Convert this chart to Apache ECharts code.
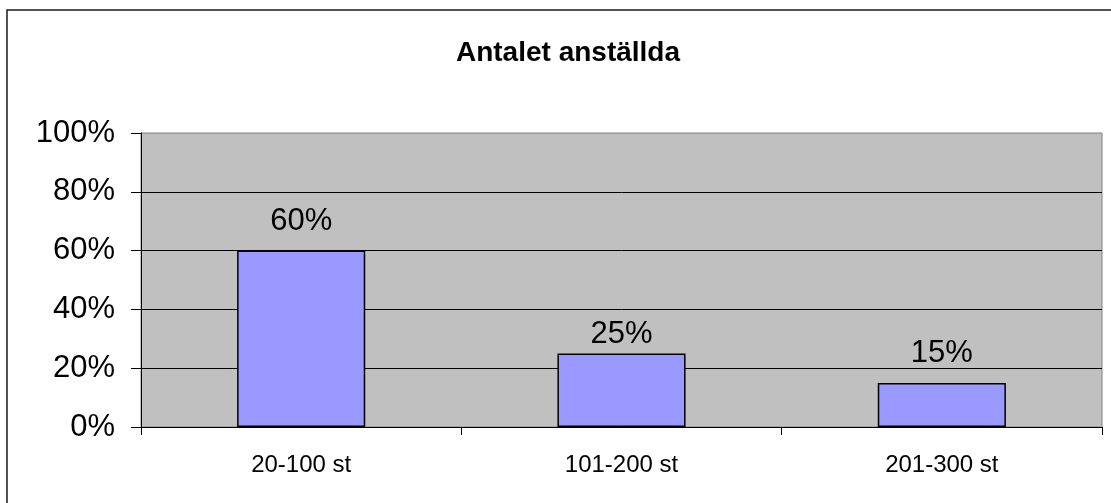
<!DOCTYPE html>
<html>
<head>
<meta charset="utf-8">
<script src="https://cdn.jsdelivr.net/npm/echarts@6/dist/echarts.min.js"></script>
<style>
  html, body { margin: 0; padding: 0; background: #fff; }
  #chart { width: 1111px; height: 503px; }
</style>
</head>
<body>
<div id="chart"></div>
<script>
// Antalet anställda per företag, andel i procent
const categories = ['20-100 st', '101-200 st', '201-300 st'];
const shares = [60, 25, 15];
const yTicks = [0, 20, 40, 60, 80, 100];

const FONT = '"Liberation Sans", Arial, sans-serif';
// gap between each value label and the top of its bar
const labelGaps = [14, 4, 14];

const chart = echarts.init(document.getElementById('chart'), null, { renderer: 'canvas' });

chart.setOption({
  backgroundColor: '#ffffff',
  animation: false,
  title: {
    text: 'Antalet anställda',
    left: 563,
    textAlign: 'center',
    top: 34,
    textStyle: { fontFamily: FONT, fontSize: 28, fontWeight: 'bold', color: '#000' }
  },
  graphic: [
    {
      type: 'rect',
      shape: { x: 7, y: 10, width: 1200, height: 600 },
      style: { fill: 'none', stroke: '#1a1a1a', lineWidth: 1.5 },
      silent: true,
      z: 100
    }
  ],
  grid: {
    left: 141,
    right: 9,
    top: 133,
    bottom: 76,
    show: true,
    backgroundColor: '#C0C0C0',
    borderColor: '#808080',
    borderWidth: 1
  },
  xAxis: {
    type: 'category',
    data: categories,
    boundaryGap: true,
    axisLine: { lineStyle: { color: '#000', width: 1 } },
    axisTick: { show: true, alignWithLabel: false, length: 8, lineStyle: { color: '#000' } },
    axisLabel: { fontFamily: FONT, fontSize: 24, color: '#000', margin: 26 }
  },
  yAxis: {
    type: 'value',
    min: yTicks[0],
    max: yTicks[yTicks.length - 1],
    interval: yTicks[1] - yTicks[0],
    axisLine: { show: true, lineStyle: { color: '#000', width: 1 } },
    axisTick: { show: true, length: 10, lineStyle: { color: '#000' } },
    axisLabel: { fontFamily: FONT, fontSize: 31, color: '#000', margin: 26, formatter: '{value}%' },
    splitLine: { show: true, showMaxLine: false, lineStyle: { color: '#000', width: 1 } }
  },
  series: [
    {
      type: 'bar',
      data: shares.map((v, i) => ({ value: v, label: { distance: labelGaps[i] } })),
      barWidth: '40%',
      itemStyle: { color: '#9999FF', borderColor: '#000', borderWidth: 1.5 },
      label: {
        show: true,
        position: 'top',
        fontFamily: FONT,
        fontSize: 31,
        color: '#000',
        formatter: '{c}%'
      }
    }
  ]
});
</script>
</body>
</html>
